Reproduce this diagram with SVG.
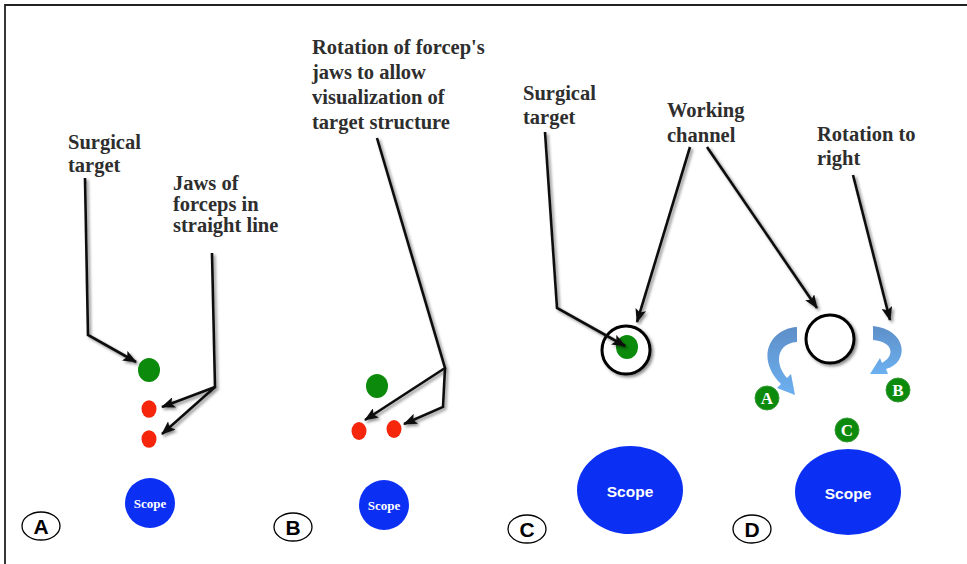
<svg xmlns="http://www.w3.org/2000/svg" width="967" height="564" viewBox="0 0 967 564">
<defs>
<style>
.lbl{font-family:"Liberation Serif","Times New Roman",serif;font-weight:bold;font-size:20.5px;fill:#2e2e2e}
.conn{fill:none;stroke:#111;stroke-width:2.6;stroke-linejoin:miter;stroke-linecap:butt}
.tag{fill:#fff;stroke:#000;stroke-width:1.3}
.tagt{font-family:"Liberation Sans",Arial,sans-serif;font-weight:bold;font-size:21px;fill:#000;text-anchor:middle}
.scope1{font-family:"Liberation Serif","Times New Roman",serif;font-weight:bold;font-size:13px;fill:#fff;text-anchor:middle}
.scope2{font-family:"Liberation Sans",Arial,sans-serif;font-weight:bold;font-size:15.5px;fill:#fff;text-anchor:middle}
.blue{fill:#0b30f4}
.green{fill:#0c8a0c}
.red{fill:#f5260c}
.gl{fill:#0c8a0c;stroke:#3a9a3a;stroke-width:1}
.glt{font-family:"Liberation Serif","Times New Roman",serif;font-weight:bold;font-size:17px;fill:#fff;text-anchor:middle}
.ring{fill:#fff;stroke:#000;stroke-width:3}
</style>
<filter id="sh" x="-20%" y="-20%" width="140%" height="140%">
<feDropShadow dx="2" dy="2" stdDeviation="1.5" flood-color="#000" flood-opacity="0.45"/>
</filter>
<marker id="ah" viewBox="0 0 14 11" refX="13" refY="5.5" markerWidth="14" markerHeight="11" markerUnits="userSpaceOnUse" orient="auto">
<path d="M0,0 L14,5.5 L0,11 L3,5.5 z" fill="#111"/>
</marker>
<linearGradient id="bl" x1="0" y1="0" x2="0" y2="1">
<stop offset="0" stop-color="#5e8fc8"/>
<stop offset="1" stop-color="#6cb0f0"/>
</linearGradient>
</defs>
<rect width="967" height="564" fill="#fff"/>
<path d="M5,567 L5,5 L970,5" fill="none" stroke="#222" stroke-width="1.8"/>

<g id="panelA">
<text class="lbl" x="68" y="149">Surgical</text>
<text class="lbl" x="68" y="172">target</text>
<text class="lbl" x="173" y="190">Jaws of</text>
<text class="lbl" x="173" y="211">forceps in</text>
<text class="lbl" x="173" y="232">straight line</text>
<g id="targetA"><ellipse class="green" cx="149" cy="370" rx="11" ry="12"/></g>
<g id="jawA1"><ellipse class="red" cx="149" cy="409" rx="7.5" ry="8.8"/></g>
<g id="jawA2"><ellipse class="red" cx="149" cy="439" rx="7.5" ry="8.8"/></g>
<g id="scopeA"><circle class="blue" cx="150" cy="503" r="25"/><text class="scope1" x="150" y="508">Scope</text></g>
<g id="tagA"><ellipse class="tag" cx="41" cy="526" rx="19" ry="14"/><text class="tagt" x="41" y="533.5">A</text></g>
</g>

<g id="panelB">
<text class="lbl" x="312" y="54">Rotation of forcep's</text>
<text class="lbl" x="312" y="79">jaws to allow</text>
<text class="lbl" x="312" y="104">visualization of</text>
<text class="lbl" x="312" y="129">target structure</text>
<g id="targetB"><ellipse class="green" cx="377" cy="386" rx="11" ry="12"/></g>
<g id="jawB1"><ellipse class="red" cx="359" cy="431" rx="7.5" ry="9"/></g>
<g id="jawB2"><ellipse class="red" cx="394" cy="429" rx="7.5" ry="9"/></g>
<g id="scopeB"><circle class="blue" cx="384" cy="505" r="25"/><text class="scope1" x="384" y="510">Scope</text></g>
<g id="tagB"><ellipse class="tag" cx="293" cy="527" rx="19" ry="14"/><text class="tagt" x="293" y="534.5">B</text></g>
</g>

<g id="panelC">
<text class="lbl" x="523" y="100">Surgical</text>
<text class="lbl" x="523" y="124">target</text>
<text class="lbl" x="667" y="117">Working</text>
<text class="lbl" x="667" y="142">channel</text>
<g id="channelC"><circle class="ring" cx="626" cy="350" r="24" filter="url(#sh)"/><ellipse class="green" cx="627" cy="347" rx="11" ry="12"/></g>
<g id="scopeC"><ellipse class="blue" cx="630" cy="490" rx="53" ry="44"/><text class="scope2" x="630" y="497">Scope</text></g>
<g id="tagC"><ellipse class="tag" cx="527" cy="529" rx="19" ry="14"/><text class="tagt" x="527" y="536.5">C</text></g>
</g>

<g id="panelD">
<text class="lbl" x="817" y="141">Rotation to</text>
<text class="lbl" x="817" y="165">right</text>
<g id="channelD"><circle class="ring" cx="830" cy="339" r="24" filter="url(#sh)"/></g>
<g id="rotA"><path fill="url(#bl)" d="M797,327 C768,329 756,360 781,384 L777,388 L795,395 L791,374 L787,378 C773,362 778,343 797,342 Z"/></g>
<g id="rotB"><path fill="url(#bl)" d="M873,326 C906,329 911,362 886,369 L888,374 L870,374 L880,358 L882,363 C895,356 894,342 873,340 Z"/></g>
<g id="gA"><circle class="gl" cx="767" cy="398" r="12"/><text class="glt" x="767" y="404">A</text></g>
<g id="gB"><circle class="gl" cx="898" cy="390" r="12"/><text class="glt" x="898" y="396">B</text></g>
<g id="gC"><circle class="gl" cx="847" cy="430" r="12"/><text class="glt" x="847" y="436">C</text></g>
<g id="scopeD"><ellipse class="blue" cx="848" cy="492" rx="53" ry="43"/><text class="scope2" x="848" y="499">Scope</text></g>
<g id="tagD"><ellipse class="tag" cx="752" cy="529" rx="19" ry="14"/><text class="tagt" x="752" y="536.5">D</text></g>
</g>

<g id="connectors" filter="url(#sh)">
<path class="conn" d="M85,178 L88,335 L136,362" marker-end="url(#ah)"/>
<path class="conn" d="M212,253 L215,387 L162,407" marker-end="url(#ah)"/>
<path class="conn" d="M215,387 L162,434" marker-end="url(#ah)"/>
<path class="conn" d="M377,138 L445,368 L365,420" marker-end="url(#ah)"/>
<path class="conn" d="M445,368 L443,407 L404,424" marker-end="url(#ah)"/>
<path class="conn" d="M545,132 L557,308 L625,346" marker-end="url(#ah)"/>
<path class="conn" d="M690,147 L637,322" marker-end="url(#ah)"/>
<path class="conn" d="M707,147 L817,308" marker-end="url(#ah)"/>
<path class="conn" d="M853,175 L890,320" marker-end="url(#ah)"/>
</g>
</svg>
